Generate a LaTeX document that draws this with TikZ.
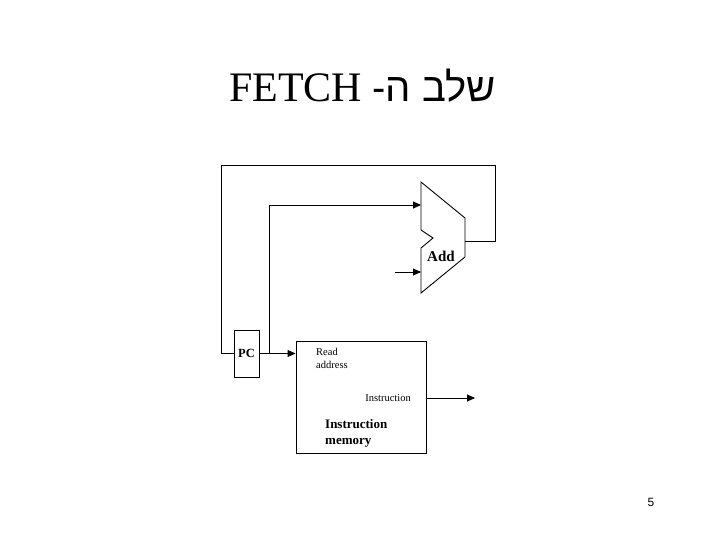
\documentclass[tikz,border=0pt]{standalone}
\usepackage{fontspec}
\setmainfont{Liberation Serif}
\newfontfamily\hebfont[Script=Hebrew]{Liberation Sans}
\newfontfamily\pagefont{Liberation Sans}
\TeXXeTstate=1
\usetikzlibrary{arrows.meta, positioning}
\tikzset{
  wire/.style={draw, line width=0.9pt},
  arr/.style={wire, -{Triangle[length=8pt,width=7pt]}},
  lbl/.style={inner sep=0pt, align=left, font=\fontsize{10.5}{13}\selectfont},
  boldlbl/.style={inner sep=0pt, align=left, font=\bfseries\fontsize{13}{16}\selectfont}
}

\begin{document}
\begin{tikzpicture}[x=1pt, y=-1pt]
\useasboundingbox (0,0) rectangle (720,540);
% title
\node[anchor=base, inner sep=0pt] (title) at (362.5,102)
  {\fontsize{42}{44}\selectfont FETCH {\hebfont\fontsize{40}{44}\selectfont\beginR שלב ה-\endR}};
% PC and instruction memory
\node[draw, line width=0.9pt, minimum width=25pt, minimum height=47pt, inner sep=0pt,
  font=\bfseries\fontsize{12.5}{14}\selectfont] (pc) at (246.5,353.5) {PC};
\node[draw, line width=0.9pt, minimum width=130pt, minimum height=112pt] (imem) at (361,397) {};
\node[lbl, anchor=north west] (readaddr) at (316,348) {Read\\address};
\node[lbl, anchor=east] (instr) at (411,398) {Instruction};
\node[boldlbl, anchor=west] (memname) at (325,433) {Instruction\\memory};
% adder
\draw[wire] (421,182) -- (465,218) -- (465,257) -- (421,293) -- (421,248)
  -- (433,238) -- (421,230) -- cycle;
\node[inner sep=0pt, font=\bfseries\fontsize{15}{16}\selectfont] (add) at (441,256) {Add};
\coordinate (addinA) at (421,205);
\coordinate (addinB) at (421,272);
\coordinate (addout) at (465,241);
\coordinate (four) at (395,272);
\coordinate (tap) at (269,353.5);
\coordinate (instrout) at (475,398);
% connectors
\draw[arr] (pc.east) -- (imem.west |- pc.east);
\draw[arr] (tap) |- (addinA);
\draw[arr] (four) -- (addinB);
\draw[wire] (addout) -| (495,165) -| (221,353.5) -- (pc.west);
\draw[arr] (imem.east |- instrout) -- (instrout);
% page number
\node[inner sep=0pt, font=\pagefont\fontsize{12}{14}\selectfont] (pagenum) at (651,502) {5};
\end{tikzpicture}
\end{document}
